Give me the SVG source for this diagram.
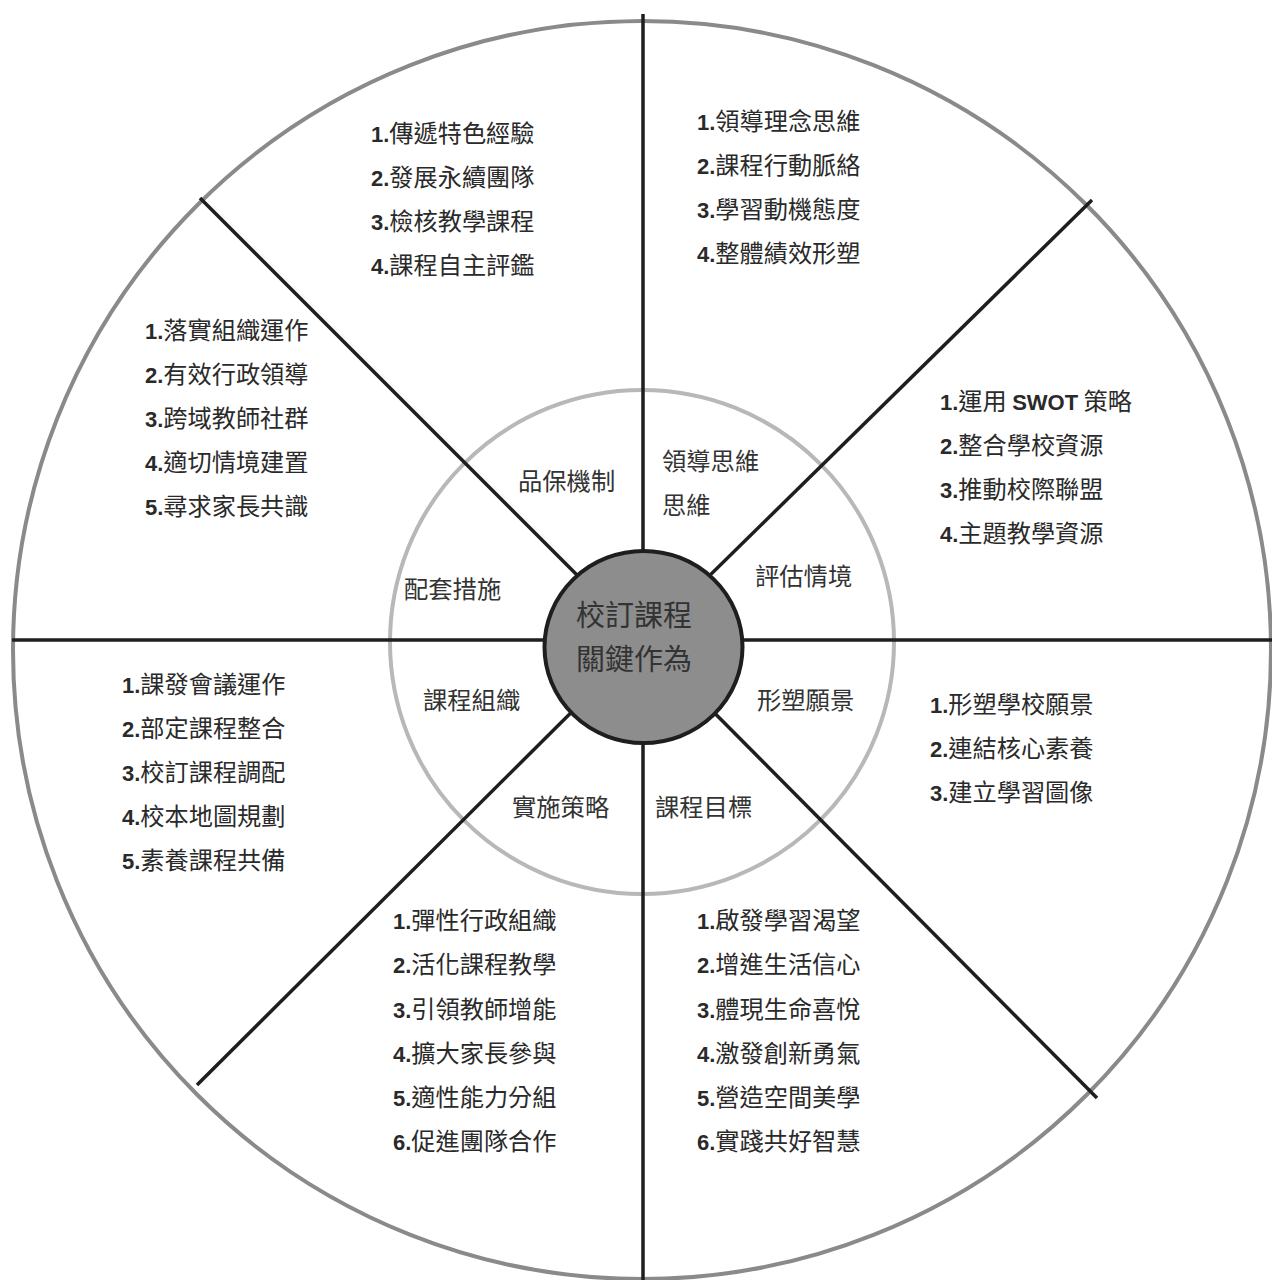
<svg xmlns="http://www.w3.org/2000/svg" width="1272" height="1280" viewBox="0 0 1272 1280">
<style>
.outer{fill:none;stroke:#8a8a8a;stroke-width:4}
.mid{fill:none;stroke:#b8b8b8;stroke-width:4}
.spoke{stroke:#1e1e1e;stroke-width:3.5;fill:none}
.hub{fill:#8d8d8d;stroke:#1e1e1e;stroke-width:4}
.hubt{font-family:"Noto Sans CJK TC","Noto Sans CJK SC",sans-serif;font-size:29px;fill:#333}
.ring{font-family:"Noto Sans CJK TC","Noto Sans CJK SC",sans-serif;font-size:24.3px;fill:#333}
.li{font-family:"Noto Sans CJK TC","Noto Sans CJK SC",sans-serif;font-size:24.2px;fill:#2a2a2a}
.n{font-family:"Liberation Sans","Noto Sans",sans-serif;font-weight:bold;font-size:22px}
</style>
<rect width="1272" height="1280" fill="#ffffff"/>
<g id="background">
<ellipse class="outer" cx="642" cy="650" rx="629" ry="629"/>
<circle class="mid" cx="642" cy="642" r="252"/>
</g>
<g id="connectors">
<line class="spoke" x1="643" y1="14" x2="643" y2="1280"/>
<line class="spoke" x1="12" y1="640" x2="1272" y2="640"/>
<line class="spoke" x1="200" y1="198" x2="643" y2="641"/>
<line class="spoke" x1="1092" y1="200" x2="643" y2="641"/>
<line class="spoke" x1="197" y1="1085" x2="643" y2="641"/>
<line class="spoke" x1="1097" y1="1098" x2="643" y2="641"/>
</g>
<g id="hub">
<ellipse class="hub" cx="643.5" cy="647" rx="99" ry="96"/>
<text class="hubt" x="634" y="626" text-anchor="middle">校訂課程</text>
<text class="hubt" x="634" y="670" text-anchor="middle">關鍵作為</text>
</g>
<g id="ring-labels">
<text class="ring" x="518" y="490">品保機制</text>
<text class="ring" x="662" y="470">領導思維</text>
<text class="ring" x="662" y="514">思維</text>
<text class="ring" x="755" y="585">評估情境</text>
<text class="ring" x="404" y="598">配套措施</text>
<text class="ring" x="423" y="709">課程組織</text>
<text class="ring" x="757" y="709">形塑願景</text>
<text class="ring" x="512" y="816">實施策略</text>
<text class="ring" x="655" y="816">課程目標</text>
</g>
<g id="list-top-left" class="li">
<text x="371" y="142"><tspan class="n">1.</tspan>傳遞特色經驗</text>
<text x="371" y="186"><tspan class="n">2.</tspan>發展永續團隊</text>
<text x="371" y="230"><tspan class="n">3.</tspan>檢核教學課程</text>
<text x="371" y="274"><tspan class="n">4.</tspan>課程自主評鑑</text>
</g>
<g id="list-top-right" class="li">
<text x="697" y="130"><tspan class="n">1.</tspan>領導理念思維</text>
<text x="697" y="174"><tspan class="n">2.</tspan>課程行動脈絡</text>
<text x="697" y="218"><tspan class="n">3.</tspan>學習動機態度</text>
<text x="697" y="262"><tspan class="n">4.</tspan>整體績效形塑</text>
</g>
<g id="list-left-upper" class="li">
<text x="145" y="339"><tspan class="n">1.</tspan>落實組織運作</text>
<text x="145" y="383"><tspan class="n">2.</tspan>有效行政領導</text>
<text x="145" y="427"><tspan class="n">3.</tspan>跨域教師社群</text>
<text x="145" y="471"><tspan class="n">4.</tspan>適切情境建置</text>
<text x="145" y="515"><tspan class="n">5.</tspan>尋求家長共識</text>
</g>
<g id="list-right-upper" class="li">
<text x="940" y="410"><tspan class="n">1.</tspan>運用 <tspan class="n">SWOT</tspan> 策略</text>
<text x="940" y="454"><tspan class="n">2.</tspan>整合學校資源</text>
<text x="940" y="498"><tspan class="n">3.</tspan>推動校際聯盟</text>
<text x="940" y="542"><tspan class="n">4.</tspan>主題教學資源</text>
</g>
<g id="list-left-lower" class="li">
<text x="122" y="693"><tspan class="n">1.</tspan>課發會議運作</text>
<text x="122" y="737"><tspan class="n">2.</tspan>部定課程整合</text>
<text x="122" y="781"><tspan class="n">3.</tspan>校訂課程調配</text>
<text x="122" y="825"><tspan class="n">4.</tspan>校本地圖規劃</text>
<text x="122" y="869"><tspan class="n">5.</tspan>素養課程共備</text>
</g>
<g id="list-right-lower" class="li">
<text x="930" y="713"><tspan class="n">1.</tspan>形塑學校願景</text>
<text x="930" y="757"><tspan class="n">2.</tspan>連結核心素養</text>
<text x="930" y="801"><tspan class="n">3.</tspan>建立學習圖像</text>
</g>
<g id="list-bottom-left" class="li">
<text x="393" y="929"><tspan class="n">1.</tspan>彈性行政組織</text>
<text x="393" y="973"><tspan class="n">2.</tspan>活化課程教學</text>
<text x="393" y="1018"><tspan class="n">3.</tspan>引領教師增能</text>
<text x="393" y="1062"><tspan class="n">4.</tspan>擴大家長參與</text>
<text x="393" y="1106"><tspan class="n">5.</tspan>適性能力分組</text>
<text x="393" y="1150"><tspan class="n">6.</tspan>促進團隊合作</text>
</g>
<g id="list-bottom-right" class="li">
<text x="697" y="929"><tspan class="n">1.</tspan>啟發學習渴望</text>
<text x="697" y="973"><tspan class="n">2.</tspan>增進生活信心</text>
<text x="697" y="1018"><tspan class="n">3.</tspan>體現生命喜悅</text>
<text x="697" y="1062"><tspan class="n">4.</tspan>激發創新勇氣</text>
<text x="697" y="1106"><tspan class="n">5.</tspan>營造空間美學</text>
<text x="697" y="1150"><tspan class="n">6.</tspan>實踐共好智慧</text>
</g>
</svg>
